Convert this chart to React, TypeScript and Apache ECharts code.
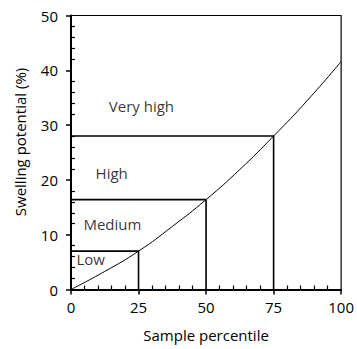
import React, { useEffect, useRef } from "react";
import * as echarts from "echarts";

const curveX = [0, 12.5, 25, 37.5, 50, 62.5, 75, 87.5, 100];
const curveY = [0, 3.3, 7.0, 11.5, 16.4, 21.9, 28.0, 34.5, 41.6];

const classNames = ["Low", "Medium", "High"];
const classPercentile = [25, 50, 75];
const classLimit = [7.0, 16.4, 28.0];

const labelNames = ["Low", "Medium", "High", "Very high"];
const labelX = [2.0, 4.6, 9.1, 14.0];
const labelY = [5.6, 12.0, 21.3, 33.5];

const xTicks = [0, 25, 50, 75, 100];
const yTicks = [0, 10, 20, 30, 40, 50];

const FONT = "'Open Sans'";
const FS = 15;

export default function App() {
  const ref = useRef<HTMLDivElement>(null);
  useEffect(() => {
    if (!ref.current) return;
    const chart = echarts.init(ref.current, null, { renderer: "svg" });
    const rectSeries = classNames.map((n, i) => ({
      name: n,
      type: "line",
      xAxisIndex: 0,
      yAxisIndex: 0,
      data: [
        [0, classLimit[i]],
        [classPercentile[i], classLimit[i]],
        [classPercentile[i], 0],
      ],
      symbol: "none",
      lineStyle: { color: "#000", width: 1.6 },
      z: 3,
    }));
    chart.setOption({
      animation: false,
      backgroundColor: "#fff",
      grid: {
        left: 71,
        top: 15.5,
        right: 14,
        bottom: 59.5,
        show: true,
        borderColor: "#000",
        borderWidth: 1.2,
      },
      xAxis: [
        {
          type: "value",
          min: xTicks[0],
          max: xTicks[xTicks.length - 1],
          interval: 25,
          position: "bottom",
          axisLine: { show: true, lineStyle: { color: "#000", width: 2 } },
          axisTick: { show: true, inside: false, length: 5, lineStyle: { color: "#000", width: 1.5 } },
          axisLabel: { color: "#000", fontFamily: FONT, fontSize: FS, margin: 10 },
          splitLine: { show: false },
          name: "Sample percentile",
          nameLocation: "middle",
          nameGap: 38,
          nameTextStyle: { color: "#000", fontFamily: FONT, fontSize: FS },
        },
        {
          type: "value",
          min: xTicks[0],
          max: xTicks[xTicks.length - 1],
          interval: 25,
          position: "bottom",
          axisLine: { show: false },
          axisTick: { show: false, inside: true },
          minorTick: { show: true, splitNumber: 5, length: 4, lineStyle: { color: "#000", width: 1.2 } },
          axisLabel: { show: false },
          splitLine: { show: false },
        },
      ],
      yAxis: [
        {
          type: "value",
          min: yTicks[0],
          max: yTicks[yTicks.length - 1],
          interval: 10,
          position: "left",
          axisLine: { show: true, lineStyle: { color: "#000", width: 2 } },
          axisTick: { show: true, inside: false, length: 5, lineStyle: { color: "#000", width: 1.5 } },
          axisLabel: { color: "#000", fontFamily: FONT, fontSize: FS, margin: 13 },
          splitLine: { show: false },
        },
        {
          type: "value",
          min: yTicks[0],
          max: yTicks[yTicks.length - 1],
          interval: 10,
          position: "left",
          axisLine: { show: false },
          axisTick: { show: false, inside: true },
          minorTick: { show: true, splitNumber: 5, length: 4, lineStyle: { color: "#000", width: 1.2 } },
          axisLabel: { show: false },
          splitLine: { show: false },
        },
      ],
      graphic: [
        {
          type: "text",
          x: 20,
          y: 142,
          rotation: Math.PI / 2,
          style: {
            text: "Swelling potential (%)",
            fill: "#000",
            font: `${FS}px ${FONT}`,
            textAlign: "center",
            textVerticalAlign: "middle",
          },
        },
      ],
      series: [
        {
          name: "curve",
          type: "line",
          data: curveX.map((x, i) => [x, curveY[i]]),
          smooth: true,
          symbol: "none",
          lineStyle: { color: "#000", width: 1 },
          z: 2,
        },
        ...rectSeries,
        {
          name: "labels",
          type: "scatter",
          symbolSize: 0,
          data: labelX.map((x, i) => ({ value: [x, labelY[i]], name: labelNames[i] })),
          label: {
            show: true,
            position: "right",
            distance: 0,
            formatter: (p: any) => p.name,
            color: "#000",
            fontFamily: FONT,
            fontSize: FS,
          },
          z: 4,
        },
      ],
    });
    return () => chart.dispose();
  }, []);
  return (
    <div
      ref={ref}
      style={{ position: "fixed", left: 0, top: 0, width: 357, height: 349 }}
    />
  );
}
